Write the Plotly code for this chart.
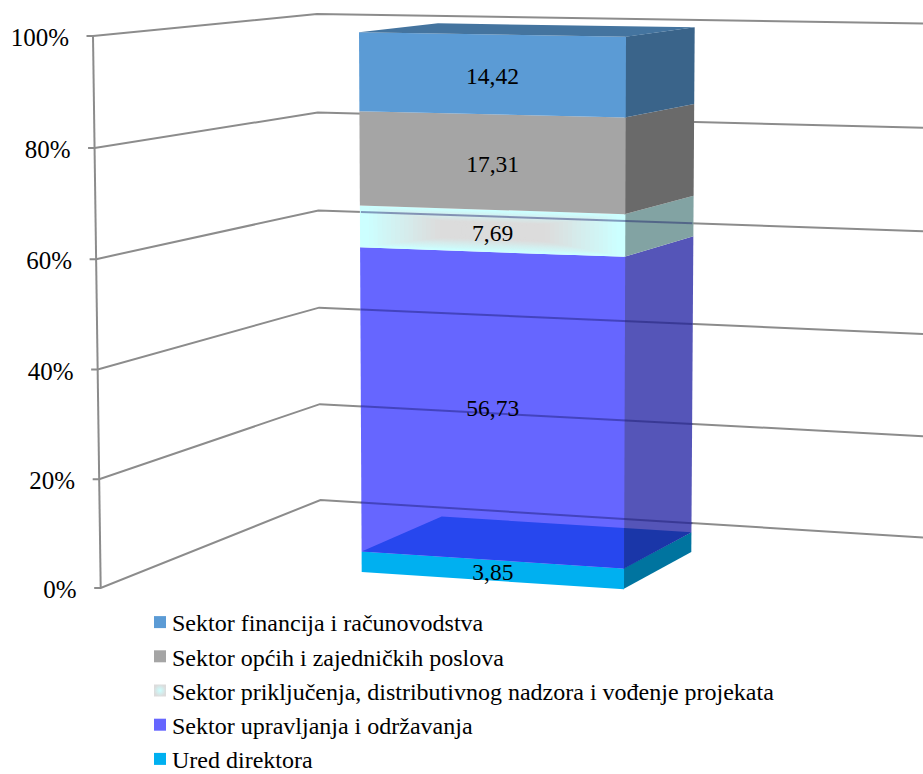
import plotly.graph_objects as go

# ---- data ----
category_names = ["Sektor financija i računovodstva", "Sektor općih i zajedničkih poslova",
                  "Sektor priključenja, distributivnog nadzora i vođenje projekata",
                  "Sektor upravljanja i održavanja", "Ured direktora"]
series_values = [14.42, 17.31, 7.69, 56.73, 3.85]
tick_values = [0, 20, 40, 60, 80, 100]
tick_labels = ["0%", "20%", "40%", "60%", "80%", "100%"]

front_colors = ["#5B9BD5", "#A5A5A5", "#CCFFFF", "#6666FF", "#00B0F0"]
side_colors = ["#3A648A", "#6A6A6A", "#82A3A3", "#5555B8", "#00749F"]

# ---- projection of the 3D box: (x, y) of a vertical edge at 0 % and at 100 % ----
PERSP = 1.0177
WALL_FRONT = ((100.7, 588.0), (93.0, 36.0))
WALL_CORNER = ((320.5, 500.0), (317.0, 14.0))
WALL_RIGHT = ((923.0, 537.5), (923.0, 23.5))
BAR_FL = ((361.7, 572.0), (359.0, 32.3))
BAR_FR = ((624.0, 589.3), (626.0, 36.7))
BAR_BR = ((691.3, 552.0), (694.7, 27.3))
BAR_BL = ((441.85, 536.0), (438.0, 23.3))


def proj(edge, v):
    t = v / 100.0
    s = t / (t + (1 - t) * PERSP)
    (x0, y0), (x1, y1) = edge
    return (x0 + (x1 - x0) * s, y0 + (y1 - y0) * s)


def poly(points, color, **kw):
    xs = [p[0] for p in points] + [points[0][0]]
    ys = [p[1] for p in points] + [points[0][1]]
    return go.Scatter(x=xs, y=ys, mode="lines", fill="toself", fillcolor=color,
                      line=dict(width=0), hoverinfo="skip", showlegend=False, **kw)


GRID = "#8C8C8C"
fig = go.Figure()


def line(points, color=GRID, width=2):
    fig.add_trace(go.Scatter(x=[p[0] for p in points], y=[p[1] for p in points], mode="lines",
                             line=dict(color=color, width=width), hoverinfo="skip", showlegend=False))


# walls and gridlines
line([proj(WALL_FRONT, 0), proj(WALL_FRONT, 100)])
for v in tick_values:
    a = proj(WALL_FRONT, v)
    line([(a[0] - 6.5, a[1]), a, proj(WALL_CORNER, v), proj(WALL_RIGHT, v)])

# bar segments bottom to top
bounds = []
c = 0.0
for val in reversed(series_values):
    bounds.append((c, c + val))
    c += val
bounds = bounds[::-1]
n = len(series_values)


def lerp(a, b, f):
    return (a[0] + (b[0] - a[0]) * f, a[1] + (b[1] - a[1]) * f)


def mix(c1, c2, f):
    f = max(0, min(1, f))
    a = [int(c1[i:i + 2], 16) for i in (1, 3, 5)]
    b = [int(c2[i:i + 2], 16) for i in (1, 3, 5)]
    return "rgb(%d,%d,%d)" % tuple(round(a[k] + (b[k] - a[k]) * f) for k in range(3))


for i in range(n - 1, -1, -1):
    lo, hi = bounds[i]
    fl, fr = proj(BAR_FL, lo), proj(BAR_FR, lo)
    tl, tr = proj(BAR_FL, hi), proj(BAR_FR, hi)
    bl, br = proj(BAR_BR, lo), proj(BAR_BR, hi)
    # side first, reaching a little under the front face so no seam shows
    fig.add_trace(poly([(fr[0] - 1, fr[1]), bl, br, (tr[0] - 1, tr[1])], side_colors[i]))
    fig.add_trace(poly([fl, fr, tr, tl], front_colors[i]))
    if i == 2:  # rectangular path gradient on the front face
        steps = 30
        for k in range(1, steps):
            f = k / steps
            m = f / 2
            left_b, right_b = lerp(fl, fr, m), lerp(fl, fr, 1 - m)
            left_t, right_t = lerp(tl, tr, m), lerp(tl, tr, 1 - m)
            p = [lerp(left_b, left_t, m), lerp(right_b, right_t, m),
                 lerp(right_b, right_t, 1 - m), lerp(left_b, left_t, 1 - m)]
            fig.add_trace(poly(p, mix("#CCFFFF", "#DCDCDC", (f - 0.03) / 0.55)))

# gridlines seen through the translucent segment
seg_lo, seg_hi = bounds[3]
x_left = proj(BAR_FL, (seg_lo + seg_hi) / 2)[0]
x_right = proj(BAR_BR, (seg_lo + seg_hi) / 2)[0]
for v in tick_values:
    p, q = proj(WALL_CORNER, v), proj(WALL_RIGHT, v)
    pa, pb = lerp(p, q, (x_left - p[0]) / (q[0] - p[0])), lerp(p, q, (x_right - p[0]) / (q[0] - p[0]))
    if v < seg_hi and pb[1] < proj(BAR_BR, seg_lo)[1]:
        line([pa, pb], "rgba(20,20,100,0.42)", 2)

# top of the lowest segment, seen through the translucent one
u = bounds[-1][1]
a, b, cc, d = proj(BAR_FL, u), proj(BAR_FR, u), proj(BAR_BR, u), proj(BAR_BL, u)
f_split = (b[0] - d[0]) / (cc[0] - d[0])
e = lerp(d, cc, f_split)
fig.add_trace(poly([a, b, e, d], "#2747EE"))
fig.add_trace(poly([b, cc, e], "#1A36A8"))

# top of the stack
fig.add_trace(poly([proj(BAR_FL, 100), proj(BAR_FR, 100), proj(BAR_BR, 100), proj(BAR_BL, 100)], "#44749F"))

# value labels
lx, ly, lt = [], [], []
for (lo, hi), val in zip(bounds, series_values):
    mid = [proj(BAR_FL, lo), proj(BAR_FL, hi), proj(BAR_FR, lo), proj(BAR_FR, hi)]
    lx.append(sum(p[0] for p in mid) / 4)
    ly.append(sum(p[1] for p in mid) / 4 + 4)
    lt.append(f"{val:.2f}".replace(".", ","))
fig.add_trace(go.Scatter(x=lx, y=ly, mode="text", text=lt, textposition="middle center",
                         textfont=dict(family="Liberation Serif", size=23.5, color="#000000"),
                         hoverinfo="skip", showlegend=False))

# axis labels
tp = [proj(WALL_FRONT, v) for v in tick_values]
fig.add_trace(go.Scatter(x=[p[0] - 24 for p in tp], y=[p[1] + 4 for p in tp], mode="text", text=tick_labels,
                         textposition="middle left",
                         textfont=dict(family="Liberation Serif", size=25, color="#000000"),
                         hoverinfo="skip", showlegend=False))

# legend entries
for i, name in enumerate(category_names):
    marker = dict(symbol="square", size=12, color=front_colors[i], line=dict(width=0))
    if i == 2:
        marker = dict(symbol="square", size=12, color="#DCDCDC", line=dict(width=0),
                      gradient=dict(type="radial", color="#CCFFFF"))
    fig.add_trace(go.Scatter(x=[None], y=[None], mode="markers", name=name, marker=marker,
                             legendgroup=name, hoverinfo="skip"))

fig.update_layout(
    width=923, height=774, margin=dict(l=0, r=0, t=0, b=0, autoexpand=False),
    paper_bgcolor="#FFFFFF", plot_bgcolor="#FFFFFF",
    xaxis=dict(range=[0, 923], visible=False, fixedrange=True),
    yaxis=dict(range=[774, 0], visible=False, fixedrange=True),
    legend=dict(x=132 / 923, y=1 - 600 / 774, xanchor="left", yanchor="top", bgcolor="rgba(0,0,0,0)",
                font=dict(family="Liberation Serif", size=24, color="#000000"),
                tracegroupgap=9.6, traceorder="normal", itemsizing="trace"),
    showlegend=True,
)
# symbols sit closer to the legend text than plotly's minimum item width allows
post = """
function nudge(){document.querySelectorAll('.legend .legendsymbols').forEach(function(g){g.setAttribute('transform','translate(8,0)');});}
nudge();[0,50,200,500].forEach(function(t){setTimeout(nudge,t);});
document.body.style.margin='0';
"""
fig.write_html("out.html", config=dict(displayModeBar=False), post_script=post)
